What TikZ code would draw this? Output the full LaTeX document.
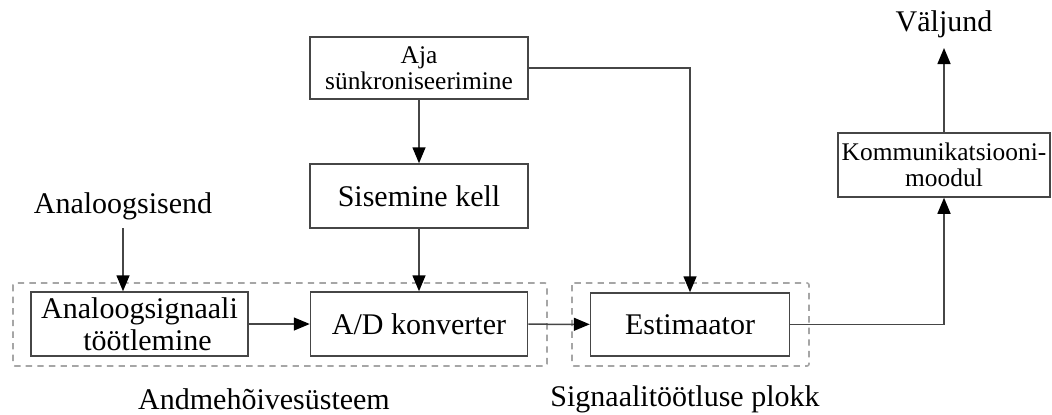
\documentclass[tikz,border=0pt]{standalone}
\usepackage{fontspec}
\setmainfont{Liberation Serif}
\usepackage{tikz}
\usetikzlibrary{arrows.meta}

\newcommand{\blockfont}{\fontsize{15}{16}\selectfont}
\newcommand{\smallblockfont}{\fontsize{12.7}{13.2}\selectfont}

\begin{document}
\begin{tikzpicture}[x=0.5pt, y=-0.5pt]

                % Styles of the blocks, the dashed groups and the arrows
                \tikzset{
                    block/.style={draw=gray!55!black, line width=0.75pt, fill=white,
                        inner sep=0pt, align=center, font=\blockfont},
                    groupbox/.style={draw=gray!70, line width=0.8pt,
                        dash pattern=on 3.2pt off 2.6pt, rounded corners=1pt},
                    flow/.style={draw=gray!55!black, line width=0.75pt,
                        -{Triangle[length=8pt, width=6.5pt, color=black]}},
                    label/.style={inner sep=0pt, font=\blockfont}
                }

                % Fixes the page to the size of the reference
                \useasboundingbox (0, 0) rectangle (1052, 414);

                % Centres of the blocks, in pixels of the reference
                \begin{scope}
                    \coordinate (pAja) at (419, 68);
                    \coordinate (pKell) at (419, 196);
                    \coordinate (pAnaloog) at (139.5, 324);
                    \coordinate (pAdc) at (419, 324);
                    \coordinate (pEst) at (690, 324.5);
                    \coordinate (pKomm) at (944, 165);
                \end{scope}

                % Dashed outlines of the two subsystems
                \begin{scope}
                    \draw[groupbox] (13, 283) rectangle (547, 366);
                    \draw[groupbox] (572, 283) rectangle (809, 366);
                \end{scope}

                \begin{scope}
                    \node (aja) at (pAja) [block, font=\smallblockfont,
                        minimum width=109pt, minimum height=31pt]
                        {Aja\\sünkroniseerimine};
                    \node (kell) at (pKell) [block,
                        minimum width=109pt, minimum height=32pt] {Sisemine kell};
                    \node (analoog) at (pAnaloog) [block,
                        minimum width=108.5pt, minimum height=32pt]
                        {Analoogsignaali\\\hspace*{8pt}töötlemine};
                    \node (adc) at (pAdc) [block,
                        minimum width=108.5pt, minimum height=32pt] {A/D konverter};
                    \node (est) at (pEst) [block,
                        minimum width=99.5pt, minimum height=31.5pt] {Estimaator};
                    \node (komm) at (pKomm) [block, font=\smallblockfont,
                        minimum width=106pt, minimum height=32pt]
                        {Kommunikatsiooni-\\moodul};
                \end{scope}

                % Free texts: input, output and the names of the subsystems
                \begin{scope}
                    \node (sisend) at (123, 206) [label] {Analoogsisend};
                    \node (valjund) at (944, 24) [label] {Väljund};
                    \node (andme) at (264, 399) [label] {Andmehõivesüsteem};
                    \node (plokk) at (685, 399) [label] {Signaalitöötluse plokk};
                \end{scope}

                \begin{scope}
                    \draw[flow, shorten <=4pt] (sisend.south) -- (analoog.north -| sisend.south);
                    \draw[flow] (aja) -- (kell);
                    \draw[flow] (kell) -- (adc);
                    \draw[flow] (analoog) -- (adc);
                    \draw[flow] (adc) -- (est);
                    \draw[flow] (aja.east) -| (est.north);
                    \draw[flow] (est.east) -| (komm.south);
                    \draw[flow, shorten >=5pt] (komm.north) -- (valjund.south);
                \end{scope}

\end{tikzpicture}
\end{document}
